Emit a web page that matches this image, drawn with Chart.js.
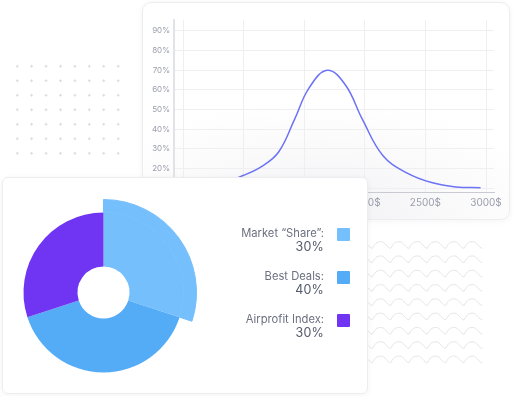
<!DOCTYPE html>
<html>
<head>
<meta charset="utf-8">
<script src="https://cdn.jsdelivr.net/npm/chart.js"></script>
<style>
  html, body { margin: 0; padding: 0; background: #fff; }
  body { width: 514px; height: 396px; position: relative; overflow: hidden; font-family: Inter, "Noto Sans", sans-serif; }
  .dots {
    position: absolute; left: 9.5px; top: 58.5px; width: 115.5px; height: 101.5px;
    background-image: radial-gradient(circle, #dadadd 1px, transparent 1.3px);
    background-size: 14.43px 14.5px;
  }
  .waves { position: absolute; left: 300px; top: 236px; }
  .card {
    position: absolute; background: #fff; border: 1px solid #ededf0;
    box-shadow: 0 1px 6px rgba(30, 30, 60, 0.05);
  }
  .card-line {
    left: 142px; top: 2px; width: 366px; height: 216px; border-radius: 9px;
    background: radial-gradient(ellipse 65% 55% at 48% 100%, #f1f1f4 0%, #fafafb 60%, #fff 100%);
  }
  .card-pie { left: 2px; top: 177px; width: 364px; height: 215px; border-radius: 6px; z-index: 2; }
  .card canvas { position: absolute; }
  .legend { position: absolute; right: 17px; top: 48px; }
  .legend-item { display: flex; align-items: flex-start; justify-content: flex-end; height: 43px; }
  .legend-text { text-align: right; line-height: 14px; }
  .legend-label { color: #6b7080; font-size: 11.2px; }
  .legend-value { color: #535a6b; font-size: 12.5px; font-weight: 400; letter-spacing: 0.2px; }
  .legend-box { width: 13px; height: 13px; margin-left: 13px; margin-top: 2px; border-radius: 1px; }
</style>
</head>
<body>
<div class="dots"></div>
<svg class="waves" width="190" height="135"></svg>

<div class="card card-line">
  <canvas id="lineChart" width="366" height="216" style="left:0;top:0"></canvas>
</div>

<div class="card card-pie">
  <canvas id="pieChart" width="187" height="187" style="left:7px;top:21px"></canvas>
  <div class="legend" id="legend"></div>
</div>

<script>
  // price distribution curve
  const priceTicks = [500, 1000, 1500, 2000, 2500, 3000];
  const percentTicks = [10, 20, 30, 40, 50, 60, 70, 80, 90];
  const curvePrice = [500, 800, 1000, 1150, 1290, 1420, 1540, 1690, 1840, 1980, 2150, 2350, 2550, 2750, 2955];
  const curveShare = [10.5, 12.5, 16.5, 21, 28.5, 45, 61, 70, 62.5, 45, 26.5, 17.6, 12.8, 10.6, 10.2];

  // share breakdown
  const sliceLabels = ['Market “Share”:', 'Best Deals:', 'Airprofit Index:'];
  const sliceValues = [30, 40, 30];
  const sliceColors = ['#75bffd', '#55acf6', '#7035f3'];
  const raisedSlice = [true, false, false];

  const tickColor = '#9a9eab';
  const gridColor = '#efeff2';

  // decorative wavy lines
  (function drawWaves() {
    const svg = document.querySelector('.waves');
    const ns = 'http://www.w3.org/2000/svg';
    const period = 18.33;
    const amp = 3.3;
    for (let row = 0; row < 9; row += 1) {
      const baseY = 9 + row * 14.3;
      let d = '';
      const startX = 187 - period * 10.25;
      for (let k = 0; k < 10; k += 1) {
        const x0 = startX + k * period;
        if (k === 0) d += `M${x0} ${baseY + amp}`;
        d += ` C${x0 + period * 0.18} ${baseY - amp} ${x0 + period * 0.32} ${baseY - amp} ${x0 + period * 0.5} ${baseY - amp}`;
        d += ` C${x0 + period * 0.68} ${baseY - amp} ${x0 + period * 0.82} ${baseY + amp} ${x0 + period} ${baseY + amp}`;
      }
      const path = document.createElementNS(ns, 'path');
      path.setAttribute('d', d);
      path.setAttribute('fill', 'none');
      path.setAttribute('stroke', '#e6e6ea');
      path.setAttribute('stroke-width', '1');
      svg.appendChild(path);
    }
  })();

  Chart.defaults.font.family = 'Inter, "Noto Sans", sans-serif';

  new Chart(document.getElementById('lineChart'), {
    type: 'line',
    data: {
      datasets: [{
        data: curvePrice.map((p, i) => ({ x: p, y: curveShare[i] })),
        borderColor: '#6c73f4',
        borderWidth: 1.5,
        pointRadius: 0,
        fill: false,
        tension: 0.4,
      }],
    },
    options: {
      responsive: false,
      animation: false,
      devicePixelRatio: 1,
      layout: { padding: { top: 17, right: 15, left: 0, bottom: 0 } },
      plugins: { legend: { display: false }, tooltip: { enabled: false } },
      scales: {
        x: {
          type: 'linear',
          min: 425,
          max: 3066,
          afterBuildTicks: (scale) => { scale.ticks = priceTicks.map((v) => ({ value: v })); },
          afterFit: (scale) => { scale.height = 27; },
          grid: { color: gridColor, drawTicks: false },
          border: { color: '#c9cad3', width: 1 },
          ticks: { color: tickColor, font: { size: 10 }, padding: 5, maxRotation: 0, callback: (v) => v + '$' },
        },
        y: {
          min: 8,
          max: 95.6,
          afterBuildTicks: (scale) => { scale.ticks = percentTicks.map((v) => ({ value: v })); },
          afterFit: (scale) => { scale.width = 31; },
          grid: { color: gridColor, drawTicks: false },
          border: { color: '#e2e2e8', width: 2 },
          ticks: { color: tickColor, font: { size: 8 }, padding: 4, callback: (v) => v + '%' },
        },
      },
    },
  });

  new Chart(document.getElementById('pieChart'), {
    type: 'doughnut',
    data: {
      labels: sliceLabels,
      datasets: [
        {
          data: sliceValues,
          backgroundColor: sliceColors.map((c, i) => (raisedSlice[i] ? c : 'rgba(0,0,0,0)')),
          borderColor: sliceColors.map((c, i) => (raisedSlice[i] ? c : 'rgba(0,0,0,0)')),
          borderWidth: 1,
          weight: 13,
        },
        {
          data: sliceValues,
          backgroundColor: sliceColors,
          borderWidth: 0,
          weight: 54,
        },
      ],
    },
    options: {
      responsive: false,
      animation: false,
      devicePixelRatio: 1,
      cutout: 26,
      plugins: { legend: { display: false }, tooltip: { enabled: false } },
    },
  });

  // legend built from the same arrays
  const legend = document.getElementById('legend');
  sliceLabels.forEach((label, i) => {
    const item = document.createElement('div');
    item.className = 'legend-item';
    item.innerHTML =
      `<div class="legend-text"><div class="legend-label">${label}</div>` +
      `<div class="legend-value">${sliceValues[i]}%</div></div>` +
      `<div class="legend-box" style="background:${sliceColors[i]}"></div>`;
    legend.appendChild(item);
  });
</script>
</body>
</html>
